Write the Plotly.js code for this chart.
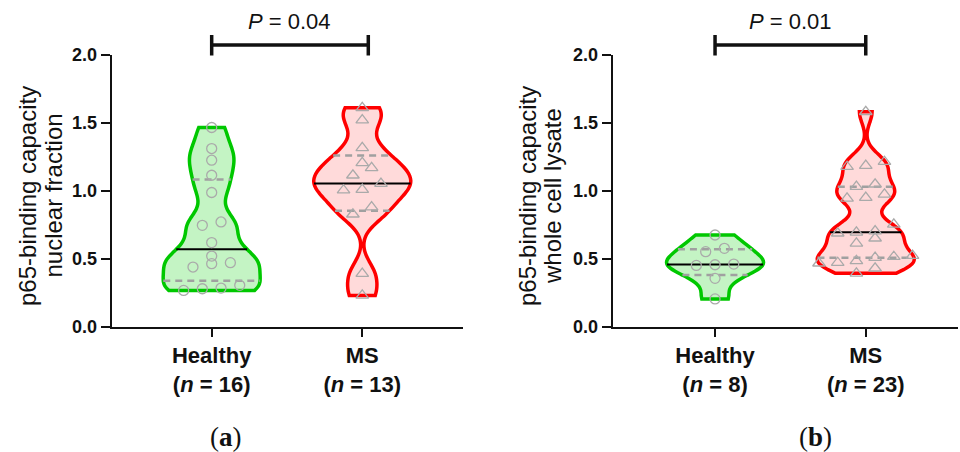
<!DOCTYPE html>
<html><head><meta charset="utf-8">
<script src="https://cdn.plot.ly/plotly-3.0.1.min.js"></script>
<style>html,body{margin:0;padding:0;background:#fff;}#chart{width:960px;height:452px;}</style>
</head><body><div id="chart"></div>
<script>
// ---- data ----
const categories = ['Healthy', 'MS'];
const nuclearHealthy = [1.466, 1.311, 1.225, 1.114, 0.987, 0.745, 0.770, 0.618, 0.519, 0.438, 0.463, 0.470, 0.303, 0.278, 0.283, 0.266];
const nuclearMS = [1.611, 1.520, 1.316, 1.168, 1.205, 1.114, 1.009, 1.053, 1.004, 0.880, 0.827, 0.389, 0.229];
const lysateHealthy = [0.674, 0.576, 0.551, 0.450, 0.455, 0.460, 0.355, 0.203];
const lysateMS = [1.582, 1.214, 1.185, 1.177, 1.030, 1.048, 0.949, 0.944, 0.974, 0.753, 0.703, 0.687, 0.694, 0.613, 0.650, 0.507, 0.514, 0.522, 0.466, 0.470, 0.483, 0.429, 0.392];
const pValues = ['0.04', '0.01'];
const yTitles = [['p65-binding capacity', 'nuclear fraction'], ['p65-binding capacity', 'whole cell lysate']];
const panelLabels = ['a', 'b'];
const yTickVals = [0, 0.5, 1, 1.5, 2];
const yTickText = ['0.0', '0.5', '1.0', '1.5', '2.0'];

// ---- geometry / style ----
const W = 960, H = 452;
const yTopPx = 55, yBotPx = 326.5;
const yRange = [0, 2];
const panels = [
  {xa: 'x', ya: 'y', left: 111.7, right: 463, range: [-0.664, 1.669], bw: [0.095, 0.095], groups: [nuclearHealthy, nuclearMS], p: pValues[0], title: yTitles[0], lab: panelLabels[0], titleX: [27, 52.5], labX: 226, bracketEnd: 1.04},
  {xa: 'x2', ya: 'y2', left: 612.7, right: 958, range: [-0.679, 1.612], bw: [0.07, 0.082], groups: [lysateHealthy, lysateMS], p: pValues[1], title: yTitles[1], labX: 815, titleX: [527, 552], lab: panelLabels[1], bracketEnd: 1}
];
const VIOLIN_W_PX = 97;
const lineCols = ['rgb(0,200,0)', 'rgb(255,0,0)'];
const fillCols = ['rgba(60,220,60,0.30)', 'rgba(255,120,120,0.27)'];
const symbols = ['circle-open', 'triangle-up-open'];
const msizes = [10, 11];
const FONT = 'Liberation Sans, Arial, Helvetica, sans-serif';

function quantile(sorted, p) { // (n+1)p method
  const n = sorted.length, pos = (n + 1) * p;
  if (pos <= 1) return sorted[0];
  if (pos >= n) return sorted[n - 1];
  const lo = Math.floor(pos), f = pos - lo;
  return sorted[lo - 1] + f * (sorted[lo] - sorted[lo - 1]);
}
function makeKDE(vals, bw) {
  const k = 1 / (vals.length * bw);
  return t => { let s = 0; for (const v of vals) { const u = (t - v) / bw; s += Math.exp(-0.5 * u * u) / Math.sqrt(2 * Math.PI); } return k * s; };
}
function maxKDE(vals, bw) {
  const mn = Math.min(...vals), mx = Math.max(...vals);
  const n = Math.ceil((mx - mn) / (bw / 3)), step = (mx - mn) / n;
  const kde = makeKDE(vals, bw); let m = 0;
  for (let t = mn; t < mx + step / 2; t += step) m = Math.max(m, kde(t));
  return m;
}
function swarm(vals, center, pxX, pxY) {
  const ROW = 9, STEP = 18.7;
  const idx = vals.map((v, i) => i).sort((a, b) => vals[a] - vals[b]);
  const xs = new Array(vals.length);
  let i = 0;
  while (i < idx.length) {
    let j = i + 1;
    while (j < idx.length && (vals[idx[j]] - vals[idx[i]]) * pxY < ROW) j++;
    const k = j - i;
    for (let m = 0; m < k; m++) xs[idx[i + m]] = center + (m - (k - 1) / 2) * STEP / pxX;
    i = j;
  }
  return xs;
}

const traces = [], shapes = [], annotations = [];
const layout = {
  width: W, height: H, margin: {l: 0, r: 0, t: 0, b: 0},
  paper_bgcolor: '#fff', plot_bgcolor: '#fff', showlegend: false,
  font: {family: FONT, color: '#111'},
  shapes: shapes, annotations: annotations
};
const pxY = (yBotPx - yTopPx) / (yRange[1] - yRange[0]);
const yDomain = [(H - yBotPx) / H, (H - yTopPx) / H];

panels.forEach((P, pi) => {
  const pxX = (P.right - P.left) / (P.range[1] - P.range[0]);
  const vw = VIOLIN_W_PX / pxX;
  const sfx = pi === 0 ? '' : '2';
  const tickText = categories.map((c, ci) => `<b>${c}</b><br><b>(<i>n</i> = ${P.groups[ci].length})</b>`);
  layout['xaxis' + sfx] = {
    domain: [P.left / W, P.right / W], range: P.range, anchor: P.ya,
    showline: true, linecolor: '#111', linewidth: 2, zeroline: false, showgrid: false,
    ticks: 'outside', ticklen: 8, tickwidth: 2, tickcolor: '#111',
    tickvals: [0, 1], ticktext: tickText, tickfont: {size: 22, family: FONT, color: '#111'}
  };
  layout['yaxis' + sfx] = {
    domain: yDomain, range: yRange, anchor: P.xa,
    showline: true, linecolor: '#111', linewidth: 2, zeroline: false, showgrid: false,
    ticks: 'outside', ticklen: 9, tickwidth: 2, tickcolor: '#111',
    tickvals: yTickVals, ticktext: yTickText.map(t => `<b>${t}</b>`), tickfont: {size: 18, family: FONT, color: '#111'}
  };
  P.groups.forEach((vals, ci) => {
    const bw = P.bw[ci];
    traces.push({
      type: 'violin', xaxis: P.xa, yaxis: P.ya, x0: ci, y: vals, width: vw,
      bandwidth: bw, spanmode: 'hard', scalemode: 'width', points: false,
      line: {color: lineCols[ci], width: 3.5}, fillcolor: fillCols[ci],
      box: {visible: false}, meanline: {visible: false}, hoverinfo: 'skip', name: categories[ci]
    });
    const sorted = [...vals].sort((a, b) => a - b);
    const kde = makeKDE(vals, bw), mk = maxKDE(vals, bw);
    [[0.25, 'q'], [0.75, 'q'], [0.5, 'm']].forEach(([p, kind]) => {
      const q = quantile(sorted, p);
      const hw = vw / 2 * kde(q) / mk;
      traces.push({
        type: 'scatter', mode: 'lines', xaxis: P.xa, yaxis: P.ya, x: [ci - hw, ci + hw], y: [q, q], hoverinfo: 'skip',
        line: kind === 'm' ? {color: '#000', width: 2} : {color: 'rgb(160,160,160)', width: 2.5, dash: '7px,5px'}
      });
    });
    traces.push({
      type: 'scatter', mode: 'markers', xaxis: P.xa, yaxis: P.ya, x: swarm(vals, ci, pxX, pxY), y: vals, hoverinfo: 'skip',
      marker: {symbol: symbols[ci], size: msizes[ci], color: 'rgb(170,170,170)', line: {width: 1.3, color: 'rgb(170,170,170)'}}
    });
  });
  // significance bracket
  const yb = (H - 45) / H, yc0 = (H - 35) / H, yc1 = (H - 55.5) / H;
  const ln = {color: '#111', width: 3.5};
  shapes.push({type: 'line', xref: P.xa, yref: 'paper', x0: 0, x1: P.bracketEnd, y0: yb, y1: yb, line: ln});
  shapes.push({type: 'line', xref: P.xa, yref: 'paper', x0: 0, x1: 0, y0: yc0, y1: yc1, line: ln});
  shapes.push({type: 'line', xref: P.xa, yref: 'paper', x0: P.bracketEnd, x1: P.bracketEnd, y0: yc0, y1: yc1, line: ln});
  annotations.push({xref: P.xa, yref: 'paper', x: P.bracketEnd / 2, y: (H - 36) / H, yanchor: 'bottom', showarrow: false,
    text: `<i>P</i> = ${P.p}`, font: {size: 22, family: FONT, color: '#111'}});
  P.title.forEach((line, li) => {
    annotations.push({xref: 'paper', yref: 'paper', x: P.titleX[li] / W, y: (H - 196) / H, xanchor: 'center', yanchor: 'middle', showarrow: false,
      textangle: -90, text: line, font: {size: 24, family: FONT, color: '#111'}});
  });
  annotations.push({xref: 'paper', yref: 'paper', x: P.labX / W, y: (H - 437) / H, xanchor: 'center', yanchor: 'middle', showarrow: false,
    text: `(<b>${P.lab}</b>)`, font: {size: 27, family: 'Liberation Serif, DejaVu Serif, serif', color: '#111'}});
});

Plotly.newPlot('chart', traces, layout, {staticPlot: true, displayModeBar: false});
</script>
</body></html>
